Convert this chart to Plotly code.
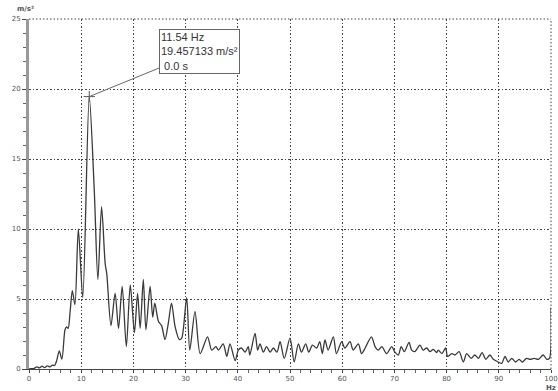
import plotly.graph_objects as go

# Spectrum (frequency in Hz, amplitude in m/s²)
freq_hz = [
    0.0, 0.5, 1.0, 1.5, 2.0, 2.5, 3.0, 3.5, 4.0, 4.5, 4.9, 5.3, 5.8, 6.3, 6.9, 7.2, 7.5,
    7.9, 8.3, 8.8, 9.45, 10.3, 11.54, 12.5, 13.2, 13.9, 14.6, 14.9, 15.7, 16.5, 17.15,
    17.85, 18.65, 19.4, 20.2, 20.8, 21.3, 21.9, 22.4, 23.2, 23.7, 24.1, 24.8, 25.4,
    26.05, 26.7, 27.3, 28.0, 28.8, 29.25, 30.2, 30.8, 31.8, 32.8, 34.2, 35.0, 35.8,
    36.3, 37.2, 37.9, 38.5, 39.5, 40.1, 40.7, 41.4, 42.0, 42.3, 43.3, 43.8, 44.25,
    44.9, 45.5, 46.2, 46.8, 47.5, 48.1, 48.9, 50.0, 50.8, 51.6, 52.2, 53.0, 53.6,
    54.3, 55.1, 55.7, 56.2, 56.7, 57.3, 58.3, 58.9, 59.9, 60.5, 61.5, 62.1, 63.1,
    63.7, 64.4, 65.6, 66.3, 66.9, 67.6, 68.5, 69.5, 70.1, 70.75, 71.3, 71.9, 72.8,
    73.3, 73.9, 74.9, 75.5, 76.2, 76.8, 77.45, 78.1, 78.4, 79.1, 79.8, 80.2, 81.0,
    81.6, 82.4, 83.2, 83.85, 84.7, 85.4, 86.1, 86.8, 87.5, 88.3, 88.95, 89.9, 90.55,
    91.2, 91.8, 92.5, 93.2, 93.9, 94.5, 95.3, 96.0, 96.8, 97.6, 98.5, 99.2, 99.7, 100.0,
]
amp_ms2 = [
    0.0, 0.02, 0.05, 0.15, 0.08, 0.2, 0.1, 0.22, 0.15, 0.28, 0.25, 0.6, 1.3, 0.7, 2.8, 3.0, 2.9,
    4.2, 5.6, 4.6, 10.0, 5.1, 19.457133, 12.8, 6.4, 11.6, 7.5, 6.8, 3.1, 5.4, 2.9,
    5.9, 1.6, 6.0, 2.6, 5.4, 2.9, 6.4, 2.8, 5.9, 3.7, 4.7, 3.4, 3.1,
    2.1, 3.3, 4.7, 3.0, 2.1, 2.2, 5.1, 1.35, 4.1, 1.1, 2.3, 1.35, 1.6,
    1.35, 1.8, 0.9, 1.8, 0.6, 1.35, 1.5, 1.2, 1.6, 1.0, 2.55, 1.35, 1.8,
    1.2, 1.6, 1.2, 1.5, 1.2, 1.95, 0.76, 2.2, 0.5, 1.8, 1.2, 1.8, 1.2,
    1.7, 1.5, 1.95, 1.1, 2.07, 1.35, 2.3, 1.1, 1.95, 1.5, 1.95, 1.35, 1.8,
    1.1, 1.5, 2.3, 1.6, 1.35, 1.6, 1.1, 1.6, 1.2, 1.0, 1.6, 1.24, 1.9,
    1.35, 1.24, 1.7, 1.35, 1.5, 1.24, 1.4, 1.17, 1.35, 1.1, 1.5, 0.9, 1.1,
    1.0, 1.24, 0.5, 1.1, 0.76, 1.0, 0.76, 1.17, 0.69, 1.0, 0.69, 0.5, 0.4,
    0.9, 0.5, 0.76, 0.5, 0.69, 0.5, 0.76, 0.69, 0.76, 0.69, 1.0, 0.69, 0.76, 4.4,
]

x_tick_vals = [0, 10, 20, 30, 40, 50, 60, 70, 80, 90, 100]
x_tick_text = ["0", "10", "20", "30", "40", "50", "60", "70", "80", "90", "100"]
y_tick_vals = [0, 5, 10, 15, 20, 25]
y_tick_text = ["0", "5", "10", "15", "20", "25"]

peak_f = [11.54]
peak_a = [19.457133]
cursor_time = "0.0 s"

GRID_DASH = "1.5px,2px"

fig = go.Figure()
fig.add_trace(go.Scatter(
    x=freq_hz, y=amp_ms2, mode="lines",
    line=dict(color="#3a3a3a", width=1.3, shape="spline", smoothing=0.8),
    hoverinfo="skip", showlegend=False, cliponaxis=False,
))
fig.add_trace(go.Scatter(
    x=peak_f, y=peak_a, mode="markers",
    marker=dict(symbol="cross-thin", size=8, line=dict(color="#555", width=1)),
    showlegend=False, hoverinfo="skip",
))

fig.add_annotation(
    x=peak_f[0], y=peak_a[0], xref="x", yref="y",
    text=f"{peak_f[0]:.2f} Hz<br>{peak_a[0]:.6f} m/s²<br>&nbsp;{cursor_time}",
    showarrow=True, arrowhead=0, arrowwidth=1, arrowcolor="#666",
    ax=110, ay=-45, align="left",
    font=dict(family="Liberation Sans, Arial", size=11, color="#333"),
    bgcolor="white", bordercolor="#666", borderwidth=1, borderpad=1,
)
fig.add_annotation(
    x=0, y=1, xref="paper", yref="paper", xanchor="center", yanchor="bottom",
    xshift=-4, yshift=4, text="<b>m/s²</b>", showarrow=False,
    font=dict(family="DejaVu Sans", size=7, color="#555"),
)
fig.add_annotation(
    x=1, y=0, xref="paper", yref="paper", xanchor="center", yanchor="top",
    yshift=-13, text="<b>Hz</b>", showarrow=False,
    font=dict(family="DejaVu Sans", size=7, color="#555"),
)

grid_style = dict(showgrid=True, gridcolor="#444", griddash=GRID_DASH, gridwidth=1)

fig.update_layout(
    width=558, height=391,
    margin=dict(l=29, r=7, t=19, b=22),
    paper_bgcolor="white", plot_bgcolor="white",
    font=dict(family="DejaVu Sans", size=7, color="#555"),
    xaxis=dict(
        range=[0, 100], tickmode="array", tickvals=x_tick_vals, ticktext=x_tick_text,
        **grid_style, automargin=False,
        showline=True, linecolor="#444", linewidth=1, zeroline=False,
        ticks="outside", ticklen=3, tickcolor="#444",
        minor=dict(dtick=2, tick0=0, ticks="outside", ticklen=3, tickcolor="#666", showgrid=False),
        fixedrange=True,
    ),
    yaxis=dict(
        range=[0, 25], tickmode="array", tickvals=y_tick_vals, ticktext=y_tick_text,
        **grid_style, automargin=False,
        showline=True, linecolor="#999", linewidth=3, zeroline=False,
        ticks="outside", ticklen=4, tickcolor="#444",
        minor=dict(dtick=1, tick0=0, ticks="outside", ticklen=3, tickcolor="#666", showgrid=False),
        fixedrange=True,
    ),
    shapes=[
        dict(type="line", xref="paper", yref="paper", x0=1, x1=1, y0=0, y1=1,
             line=dict(color="#444", width=1, dash=GRID_DASH), layer="below"),
        dict(type="line", xref="paper", yref="paper", x0=0, x1=1, y0=1, y1=1,
             line=dict(color="#444", width=1, dash=GRID_DASH), layer="below"),
    ],
)

fig.write_html(
    "out.html",
    config={"displayModeBar": False},
    post_script="document.body.style.margin='0px';document.body.style.overflow='hidden';",
)
